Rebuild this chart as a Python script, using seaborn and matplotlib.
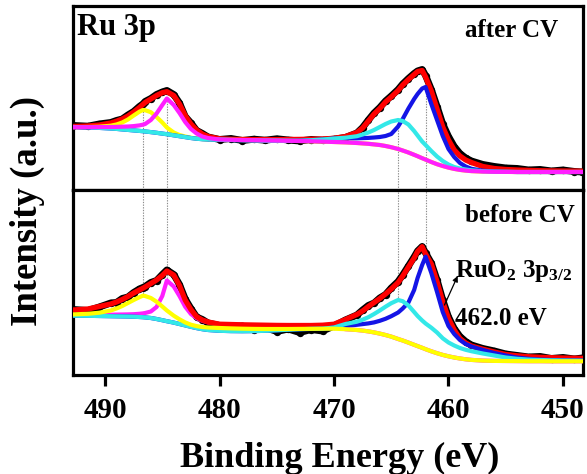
import matplotlib
matplotlib.use("Agg")
import matplotlib.pyplot as plt
import seaborn as sns
import pandas as pd

# ---------------------------------------------------------------------------
# Ru 3p XPS spectra (binding energy in eV, intensity in arbitrary units)
# ---------------------------------------------------------------------------
energy = [492.8, 491.5, 490.5, 489.5, 489.0, 488.5, 488.0, 487.5, 487.0,
          486.7, 486.5, 486.0, 485.5, 485.0, 484.6, 484.0, 483.5, 483.0, 482.5, 482.0, 481.5, 481.0,
          480.0, 479.0, 478.0, 477.0, 476.0, 475.0, 474.0, 473.0, 472.0, 471.0, 470.0,
          469.0, 468.0, 467.5, 467.0, 466.5, 466.0, 465.5, 465.0, 464.4, 464.0, 463.5, 463.0,
          462.7, 462.3, 462.0, 461.5, 461.0, 460.5, 460.0, 459.5, 459.0, 458.5, 458.0,
          457.0, 456.0, 455.0, 454.0, 453.0, 452.0, 451.0, 450.0, 449.0, 448.3]

# peak positions of the fitted components
sat_12_center = 486.7
ruo2_12_center = 484.6
sat_32_center = 464.4
ruo2_32_center = 462.0

# --- after CV -------------------------------------------------------------
after_data = [64.5, 63.8, 66.0, 67.5, 69.5, 71.0, 75.0, 78.5, 83.5,
              86.0, 88.5, 91.5, 95.5, 98.0, 99.5, 95.5, 87.0, 73.5, 67.0, 59.5, 56.5, 53.0,
              50.5, 51.5, 49.5, 50.8, 49.8, 51.2, 50.0, 49.0, 50.5, 49.8, 50.8,
              52.5, 57.0, 62.5, 70.0, 77.0, 82.5, 89.0, 94.0, 100.5, 106.0, 111.5, 116.5,
              119.0, 120.5, 114.5, 100.5, 83.5, 66.0, 53.5, 43.5, 36.5, 32.0, 29.0,
              25.5, 23.5, 22.0, 21.5, 20.0, 20.5, 19.0, 20.0, 18.5, 18.0]
after_fit = [63.5, 64.0, 65.0, 67.0, 68.8, 71.0, 74.0, 78.0, 82.5,
             85.5, 87.5, 91.0, 94.5, 97.3, 98.3, 94.5, 86.0, 74.5, 66.0, 60.0, 56.0, 53.5,
             51.2, 50.7, 50.5, 50.4, 50.4, 50.4, 50.5, 50.6, 50.8, 51.0, 51.7,
             53.5, 57.5, 62.0, 69.0, 76.0, 81.5, 88.0, 93.0, 99.5, 105.0, 110.5, 115.5,
             118.5, 119.5, 113.0, 99.0, 81.0, 63.0, 50.0, 40.0, 34.0, 30.0, 27.5,
             23.5, 21.5, 20.5, 20.0, 19.6, 19.3, 19.1, 19.0, 18.9, 18.8]
after_ruo2_12 = [62.7, 62.8, 62.9, 63.0, 63.1, 63.3, 63.5, 63.9, 64.6,
                 65.3, 66.0, 70.0, 76.5, 85.0, 91.5, 85.0, 77.0, 68.0, 61.0, 56.5, 53.5, 52.0,
                 50.5, 50.2, 50.0, 49.8, 49.6, 49.4, 49.2, 49.0, 48.7, 48.4, 48.0,
                 47.6, 47.0, 46.6, 46.2, 45.6, 45.0, 44.0, 42.8, 41.0, 39.5, 37.5, 35.2,
                 33.8, 31.8, 30.4, 28.0, 25.8, 24.0, 22.4, 21.1, 20.1, 19.4, 18.9,
                 18.4, 18.2, 18.1, 18.0, 18.0, 18.0, 18.0, 18.0, 18.0, 18.0]
after_sat_12 = [62.8, 63.0, 63.3, 64.3, 65.5, 67.5, 70.5, 74.5, 78.3,
                80.0, 79.8, 77.8, 73.0, 67.5, 62.5, 57.5, 55.0, 53.5, 52.3, 51.5, 50.9, 50.6,
                50.4, 50.2, 50.0, 49.8, 49.6, 49.4, 49.2, 49.0, 48.7, 48.4, 48.0,
                47.6, 47.0, 46.6, 46.2, 45.6, 45.0, 44.0, 42.8, 41.0, 39.5, 37.5, 35.2,
                33.8, 31.8, 30.4, 28.0, 25.8, 24.0, 22.4, 21.1, 20.1, 19.4, 18.9,
                18.4, 18.2, 18.1, 18.0, 18.0, 18.0, 18.0, 18.0, 18.0, 18.0]
after_sat_32 = [63.0, 62.6, 62.1, 61.5, 61.1, 60.6, 60.1, 59.6, 59.1,
                58.8, 58.5, 57.9, 57.2, 56.4, 55.8, 54.7, 53.8, 52.9, 52.0, 51.3, 50.8, 50.5,
                50.3, 50.0, 49.8, 49.6, 49.4, 49.3, 49.2, 49.3, 49.8, 50.5, 51.5,
                52.3, 53.8, 55.5, 57.5, 60.0, 63.0, 66.0, 68.5, 70.0, 69.0, 65.5, 59.0,
                54.5, 48.5, 45.0, 39.0, 33.5, 29.0, 25.5, 23.0, 21.5, 20.5, 19.7,
                18.8, 18.4, 18.2, 18.0, 18.0, 18.0, 18.0, 18.0, 18.0, 18.0]
after_ruo2_32 = [63.0, 62.6, 62.1, 61.5, 61.1, 60.6, 60.1, 59.6, 59.1,
                 58.8, 58.5, 57.9, 57.2, 56.4, 55.8, 54.7, 53.8, 52.9, 52.0, 51.3, 50.8, 50.5,
                 50.3, 50.0, 49.8, 49.6, 49.4, 49.3, 49.2, 49.3, 49.8, 50.5, 51.5,
                 51.6, 51.7, 51.9, 52.1, 52.5, 53.0, 54.0, 56.0, 63.5, 71.0, 81.5, 91.0,
                 96.0, 101.5, 103.0, 86.0, 70.0, 54.0, 41.0, 33.0, 27.0, 23.5, 21.2,
                 19.3, 18.6, 18.2, 18.0, 18.0, 18.0, 18.0, 18.0, 18.0, 18.0]

# --- before CV ------------------------------------------------------------
before_data = [65.5, 64.5, 68.0, 72.0, 72.5, 76.5, 78.0, 82.5, 86.0,
               87.5, 88.5, 92.5, 94.5, 100.5, 105.0, 100.5, 90.5, 76.0, 66.5, 58.0, 55.5, 52.0,
               49.5, 48.0, 49.0, 45.0, 47.5, 43.5, 46.0, 42.5, 45.5, 44.0, 49.0,
               55.0, 60.0, 65.0, 69.5, 72.0, 77.0, 80.5, 87.0, 93.5, 100.0, 109.0, 118.0,
               124.0, 128.5, 122.0, 112.0, 95.0, 75.0, 58.0, 46.5, 38.5, 33.5, 30.0,
               26.5, 24.0, 21.0, 19.5, 18.0, 18.5, 16.5, 17.5, 16.0, 17.0]
before_fit = [65.0, 66.0, 68.5, 71.0, 73.0, 75.5, 78.5, 82.0, 85.0,
              86.7, 88.0, 91.5, 95.0, 99.5, 104.0, 100.0, 89.5, 75.0, 65.5, 58.3, 55.0, 53.0,
              50.8, 50.5, 50.2, 50.0, 49.8, 49.6, 49.5, 49.5, 49.5, 49.8, 50.8,
              55.5, 60.5, 64.0, 68.5, 72.5, 76.5, 81.0, 86.0, 92.5, 99.0, 108.0, 117.0,
              123.5, 128.3, 121.0, 111.0, 93.3, 73.3, 56.5, 45.0, 36.5, 32.0, 29.0,
              25.8, 23.0, 20.5, 19.2, 18.3, 17.7, 17.3, 17.0, 16.8, 16.7]
before_ruo2_12 = [60.0, 60.1, 60.2, 60.3, 60.4, 60.5, 60.6, 60.8, 61.2,
                  61.6, 62.0, 63.5, 68.0, 79.0, 94.5, 88.5, 79.0, 68.3, 61.0, 56.8, 54.2, 52.6,
                  50.8, 50.3, 50.0, 49.8, 49.7, 49.6, 49.5, 49.4, 49.3, 49.2, 48.5,
                  45.8, 45.0, 44.4, 43.6, 42.6, 41.4, 40.0, 38.4, 36.0, 34.5, 32.4, 30.2,
                  28.9, 27.2, 25.8, 23.7, 21.8, 20.1, 18.7, 17.5, 16.5, 15.7, 15.1,
                  14.4, 14.1, 14.0, 13.9, 13.8, 13.8, 13.7, 13.7, 13.7, 13.7]
before_sat_12 = [60.6, 61.2, 62.3, 64.5, 66.5, 69.0, 72.0, 75.0, 77.8,
                 79.3, 79.0, 77.0, 73.3, 68.5, 64.5, 59.3, 55.7, 52.6, 50.3, 48.9, 48.0, 47.5,
                 47.0, 46.6, 46.3, 46.1, 46.0, 46.0, 46.0, 46.1, 46.2, 46.3, 46.3,
                 45.8, 45.0, 44.4, 43.6, 42.6, 41.4, 40.0, 38.4, 36.0, 34.5, 32.4, 30.2,
                 28.9, 27.2, 25.8, 23.7, 21.8, 20.1, 18.7, 17.5, 16.5, 15.7, 15.1,
                 14.4, 14.1, 14.0, 13.9, 13.8, 13.8, 13.7, 13.7, 13.7, 13.7]
before_sat_32 = [59.3, 59.2, 59.0, 58.8, 58.7, 58.6, 58.5, 58.3, 58.0,
                 57.8, 57.6, 57.0, 56.0, 54.8, 53.8, 52.4, 51.0, 49.6, 48.2, 46.9, 45.8, 45.0,
                 44.2, 43.9, 43.8, 43.9, 44.2, 44.7, 45.3, 45.8, 46.1, 46.3, 47.5,
                 51.0, 53.3, 55.3, 57.8, 61.0, 64.5, 68.3, 71.8, 75.0, 73.8, 69.5, 63.0,
                 59.0, 54.5, 51.5, 47.3, 42.5, 36.7, 32.5, 29.5, 27.0, 25.2, 23.8,
                 21.5, 19.5, 17.5, 16.2, 15.4, 15.0, 14.7, 14.5, 14.4, 14.3]
before_ruo2_32 = [59.3, 59.2, 59.0, 58.8, 58.7, 58.6, 58.5, 58.3, 58.0,
                  57.8, 57.6, 57.0, 56.0, 54.8, 53.8, 52.4, 51.0, 49.6, 48.2, 46.9, 45.8, 45.0,
                  44.2, 43.9, 43.8, 43.9, 44.2, 44.7, 45.3, 45.8, 46.1, 46.3, 47.5,
                  49.3, 50.2, 50.9, 51.6, 52.6, 54.2, 56.2, 58.8, 62.5, 66.5, 72.5, 85.0,
                  97.0, 110.0, 118.3, 102.0, 83.0, 63.0, 49.0, 41.0, 35.0, 31.0, 28.5,
                  25.0, 22.0, 19.5, 17.5, 16.2, 15.4, 15.0, 14.7, 14.5, 14.4]

xticks = [490, 480, 470, 460, 450]

# ---------------------------------------------------------------------------
sns.set_theme(style="white")
plt.rcParams["font.family"] = ["Liberation Serif", "DejaVu Serif"]
plt.rcParams["font.weight"] = "bold"
plt.rcParams["mathtext.fontset"] = "custom"
plt.rcParams["mathtext.rm"] = "Liberation Serif:bold"
plt.rcParams["mathtext.it"] = "Liberation Serif:bold"
plt.rcParams["mathtext.bf"] = "Liberation Serif:bold"

RED = "#ff0000"
BLUE = "#1414e6"
CYAN = "#33e8e8"
MAGENTA = "#ff1eff"
YELLOW = "#ffff00"

fig = plt.figure(figsize=(5.87, 4.74), dpi=100)
left, width = 73 / 587, 510 / 587
ax_top = fig.add_axes([left, 1 - 190 / 474, width, 184 / 474])
ax_bot = fig.add_axes([left, 1 - 375 / 474, width, 185 / 474], sharex=ax_top)


def draw_spectrum(ax, data, layers):
    df = pd.DataFrame({"E": energy, "I": data})
    sns.lineplot(data=df, x="E", y="I", ax=ax, color="black", lw=5.0,
                 sort=False, estimator=None, zorder=2)
    sns.scatterplot(data=df, x="E", y="I", ax=ax, color="black", s=28,
                    linewidth=0, zorder=2)
    for z, (values, color, lw) in enumerate(layers):
        sns.lineplot(x=energy, y=values, ax=ax, color=color, lw=lw,
                     sort=False, estimator=None, zorder=3 + z)


draw_spectrum(ax_top, after_data, [
    (after_fit, RED, 3.8),
    (after_sat_12, YELLOW, 3.0),
    (after_ruo2_32, BLUE, 3.0),
    (after_sat_32, CYAN, 3.0),
    (after_ruo2_12, MAGENTA, 3.0),
])
draw_spectrum(ax_bot, before_data, [
    (before_ruo2_12, MAGENTA, 3.0),
    (before_fit, RED, 3.8),
    (before_ruo2_32, BLUE, 3.0),
    (before_sat_32, CYAN, 3.0),
    (before_sat_12, YELLOW, 3.0),
])

# guide lines joining the component maxima of both spectra
guides = [(sat_12_center, after_sat_12, before_sat_12),
          (ruo2_12_center, after_ruo2_12, before_ruo2_12),
          (sat_32_center, after_sat_32, before_sat_32),
          (ruo2_32_center, after_ruo2_32, before_ruo2_32)]
for e0, top_vals, bot_vals in guides:
    i = energy.index(e0)
    ax_top.vlines(e0, 0, top_vals[i], colors="#8c8c8c", lw=0.8,
                  linestyles=(0, (1.2, 1.2)), zorder=1)
    ax_bot.vlines(e0, bot_vals[i], 185, colors="#8c8c8c", lw=0.8,
                  linestyles=(0, (1.2, 1.2)), zorder=1)

for ax, top in ((ax_top, 184), (ax_bot, 185)):
    ax.set_xlim(492.8, 448.25)
    ax.set_ylim(0, top)
    ax.set_yticks([])
    ax.set_xlabel("")
    ax.set_ylabel("")
    for s in ax.spines.values():
        s.set_linewidth(2.3)
        s.set_color("black")

ax_top.tick_params(axis="x", bottom=False, labelbottom=False)
ax_bot.set_xticks(xticks)
ax_bot.set_xticklabels([str(t) for t in xticks])
ax_bot.tick_params(axis="x", direction="out", length=8, width=2.3,
                   labelsize=21, pad=8, colors="black", bottom=True)
for lab in ax_bot.get_xticklabels():
    lab.set_fontweight("bold")

fig.text(340 / 587, 1 - 467 / 474, "Binding Energy (eV)", ha="center",
         va="baseline", fontsize=26, fontweight="bold", color="black")
fig.text(27 / 587, 1 - 211 / 474, "Intensity (a.u.)", rotation=90,
         ha="center", va="center", fontsize=26.5, fontweight="bold", color="black")

ax_top.text(0.008, 0.842, "Ru 3p", transform=ax_top.transAxes, ha="left",
            va="baseline", fontsize=22, fontweight="bold", color="black")
ax_top.text(0.951, 0.832, "after CV", transform=ax_top.transAxes, ha="right",
            va="baseline", fontsize=18, fontweight="bold", color="black")
ax_bot.text(0.984, 0.827, "before CV", transform=ax_bot.transAxes, ha="right",
            va="baseline", fontsize=18, fontweight="bold", color="black")

ax_bot.text(459.43, 98.5, r"RuO$_2$ 3p$_{3/2}$", ha="left", va="baseline",
            fontsize=18, fontweight="bold", color="black", zorder=10)
ax_bot.text(459.43, 50, f"{ruo2_32_center:.1f} eV", ha="left", va="baseline",
            fontsize=18, fontweight="bold", color="black", zorder=10)
ax_bot.annotate("", xy=(459.2, 99), xytext=(460.35, 70),
                arrowprops=dict(arrowstyle="-|>", color="black", lw=0.9,
                                mutation_scale=8, shrinkA=0, shrinkB=0),
                zorder=10)

fig.savefig("out.png", dpi=100)
